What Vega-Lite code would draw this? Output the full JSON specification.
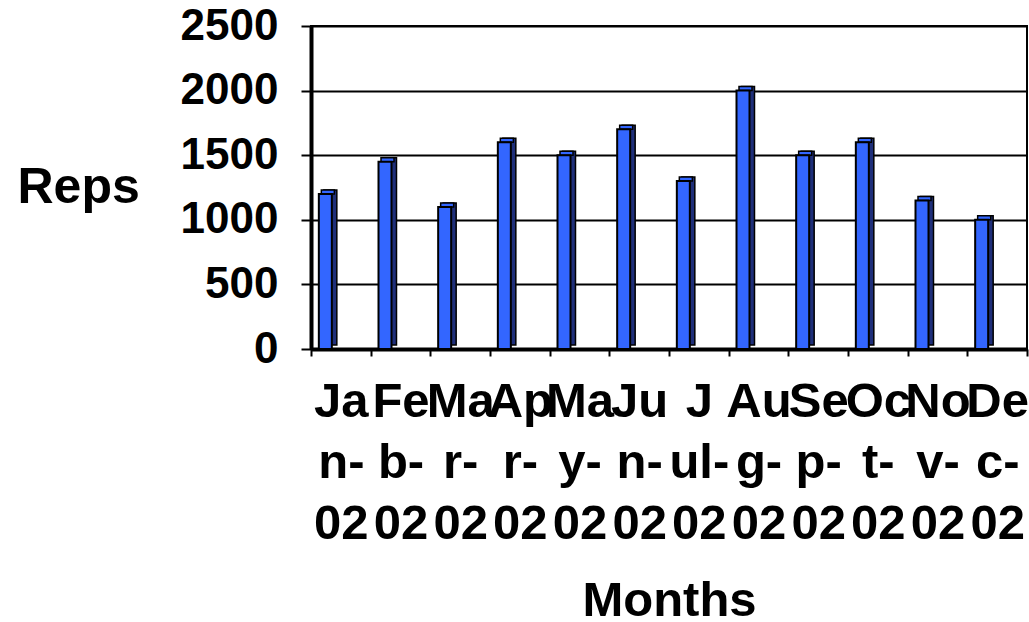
{
  "$schema": "https://vega.github.io/schema/vega-lite/v6.json",
  "width": 716,
  "height": 323,
  "autosize": {"type": "none"},
  "padding": {"left": 311, "top": 26, "right": 2, "bottom": 273},
  "background": "white",
  "config": {
    "view": {"stroke": "black", "strokeWidth": 2},
    "font": "Liberation Sans"
  },
  "data": {
    "values": [
      {"month": "Jan-02", "reps": 1200},
      {"month": "Feb-02", "reps": 1450},
      {"month": "Mar-02", "reps": 1100},
      {"month": "Apr-02", "reps": 1600},
      {"month": "May-02", "reps": 1500},
      {"month": "Jun-02", "reps": 1700},
      {"month": "Jul-02", "reps": 1300},
      {"month": "Aug-02", "reps": 2000},
      {"month": "Sep-02", "reps": 1500},
      {"month": "Oct-02", "reps": 1600},
      {"month": "Nov-02", "reps": 1150},
      {"month": "Dec-02", "reps": 1000}
    ]
  },
  "encoding": {
    "x": {
      "field": "month",
      "type": "ordinal",
      "sort": null,
      "scale": {"paddingInner": 0, "paddingOuter": 0},
      "axis": {
        "title": "Months",
        "titleFont": "Liberation Sans",
        "titleFontSize": 49,
        "titleFontWeight": "bold",
        "titleColor": "black",
        "titleY": 266,
        "titleBaseline": "alphabetic",
        "labelExpr": "!isString(datum.value) ? '' : datum.value == 'Jul-02' ? ['J', 'ul-', '02'] : [substring(datum.value, 0, 2), substring(datum.value, 2, 4), '02']",
        "labelAngle": 0,
        "labelAlign": "center",
        "labelFont": "Liberation Sans",
        "labelFontSize": 49,
        "labelFontWeight": "bold",
        "labelColor": "black",
        "labelLineHeight": 61,
        "labelPadding": 21,
        "labelOverlap": false,
        "labelBound": false,
        "labelFlush": false,
        "tickBand": "extent",
        "tickSize": 7,
        "tickWidth": 2,
        "tickColor": "black",
        "domainColor": "black",
        "domainWidth": 4,
        "grid": false
      }
    },
    "y": {
      "field": "reps",
      "type": "quantitative",
      "scale": {"domain": [0, 2500], "nice": false},
      "axis": {
        "title": "Reps",
        "titleAngle": 0,
        "titleAlign": "left",
        "titleBaseline": "middle",
        "titleX": -294,
        "titleY": 161,
        "titleFont": "Liberation Sans",
        "titleFontSize": 50,
        "titleFontWeight": "bold",
        "titleColor": "black",
        "values": [0, 500, 1000, 1500, 2000, 2500],
        "format": "d",
        "labelFont": "Liberation Sans",
        "labelFontSize": 44,
        "labelFontWeight": "bold",
        "labelColor": "black",
        "labelPadding": 23,
        "tickSize": 10,
        "tickWidth": 2,
        "tickColor": "black",
        "domainColor": "black",
        "domainWidth": 4,
        "grid": true,
        "gridColor": "black",
        "gridWidth": 2,
        "gridOpacity": 1
      }
    }
  },
  "layer": [
    {
      "mark": {"type": "bar", "width": 13, "xOffset": -10.5, "yOffset": -4, "color": "#1F2F7A", "stroke": "black", "strokeWidth": 1.5}
    },
    {
      "mark": {"type": "bar", "width": 13, "xOffset": -13, "yOffset": -4, "y2Offset": 0, "color": "#3366FF", "stroke": "black", "strokeWidth": 1.5},
      "encoding": {"y2": {"field": "reps"}}
    },
    {
      "mark": {"type": "bar", "width": 13, "xOffset": -15.5, "color": "#3366FF", "stroke": "black", "strokeWidth": 2}
    }
  ]
}
